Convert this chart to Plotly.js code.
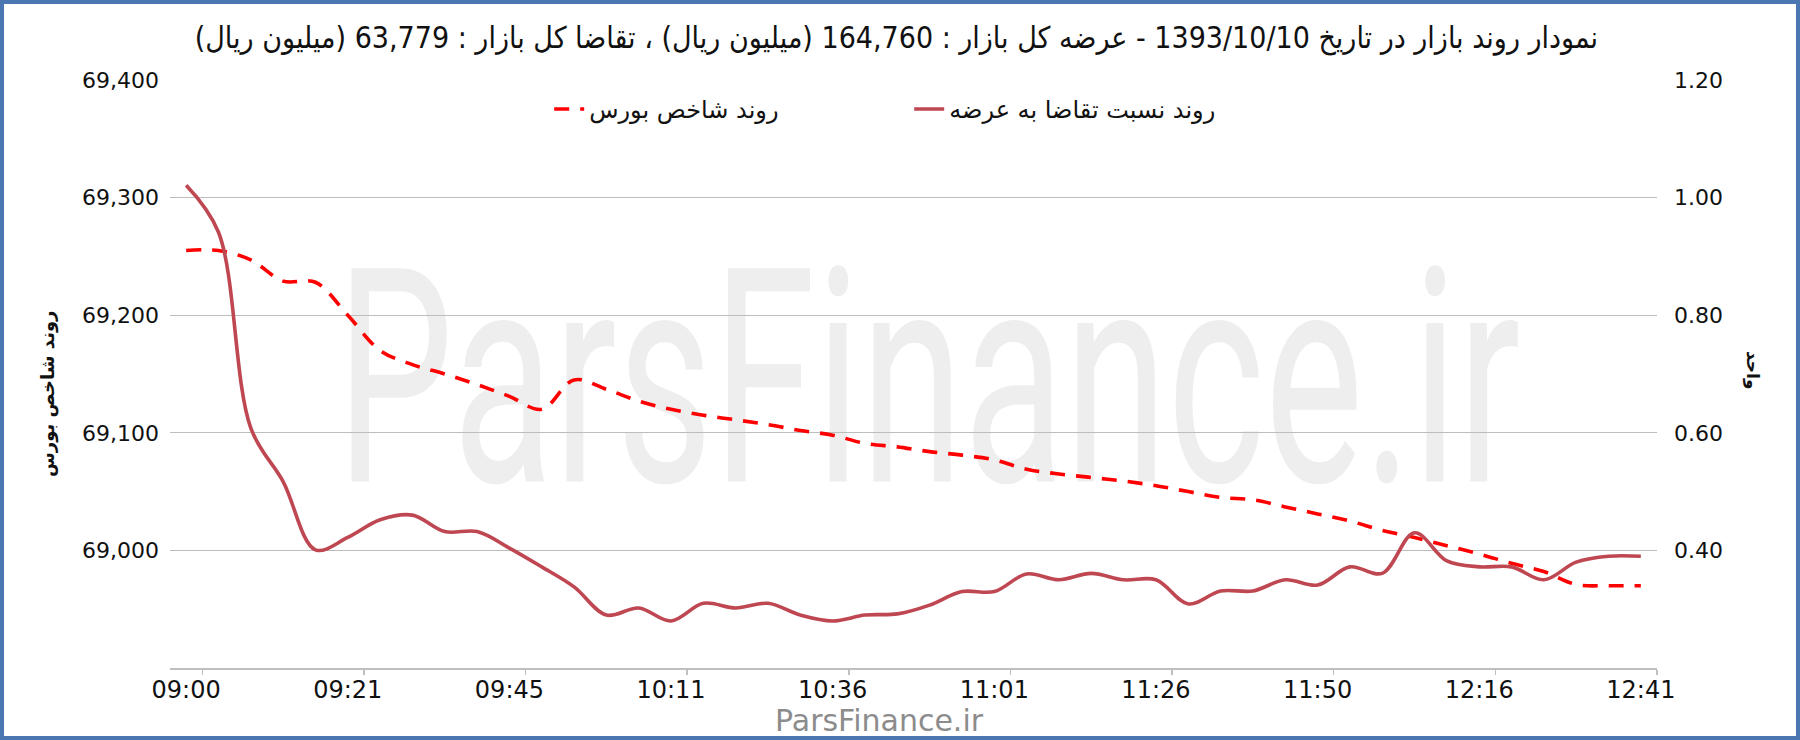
<!DOCTYPE html>
<html><head><meta charset="utf-8">
<script src="https://cdn.plot.ly/plotly-3.0.1.min.js"></script>
<style>
html,body{margin:0;padding:0;background:#fff;}
#wrap{position:relative;width:1800px;height:740px;}
#chart{width:1800px;height:740px;}
#frame{position:absolute;left:0;top:0;width:1800px;height:740px;box-sizing:border-box;border:4px solid #4a77b1;pointer-events:none;}
</style></head><body>
<div id="wrap"><div id="chart"></div><div id="frame"></div></div>
<script>
const chartTitle = 'نمودار روند بازار در تاریخ 1393/10/10 - عرضه کل بازار : 164,760 (میلیون ریال) ، تقاضا کل بازار : 63,779 (میلیون ریال)';
const timeLabels = ['09:00','09:21','09:45','10:11','10:36','11:01','11:26','11:50','12:16','12:41'];
const labelStep = 5;
const indexName = 'روند شاخص بورس';
const ratioName = 'روند نسبت تقاضا به عرضه';
const leftTitle = 'روند شاخص بورس';
const rightTitle = 'واحد';
const watermark = 'ParsFinance.ir';
const indexSeries = [69255,69255,69247,69229,69228,69200,69170,69158,69150,69141,
  69131,69120,69145,69137,69127,69120,69115,69111,69107,69102,
  69098,69091,69088,69084,69081,69077,69069,69065,69062,69059,
  69055,69050,69045,69043,69037,69031,69025,69017,69011,69004,
  68997,68989,68982,68971,68970,68970];
const ratioSeries = [1.021,0.941,0.608,0.517,0.401,0.422,0.452,0.460,0.432,0.432,
  0.404,0.372,0.338,0.290,0.302,0.280,0.310,0.302,0.310,0.290,
  0.280,0.290,0.292,0.307,0.330,0.330,0.360,0.350,0.361,0.350,
  0.350,0.309,0.331,0.331,0.350,0.341,0.372,0.361,0.430,0.382,
  0.372,0.372,0.350,0.380,0.390,0.390];
const leftTicks = [69000,69100,69200,69300,69400];
const rightTicks = [0.4,0.6,0.8,1.0,1.2];
const leftRange = [68900,69400];
const rightRange = [0.2,1.2];

const xs = indexSeries.map((_, i) => i);
const tickPos = timeLabels.map((_, k) => k * labelStep);

const traces = [
  {x: xs, y: indexSeries, name: indexName, type: 'scatter', mode: 'lines', yaxis: 'y',
   line: {color: '#ff0000', width: 3.6, dash: '15px,11px', shape: 'spline', smoothing: 1}},
  {x: xs, y: ratioSeries, name: ratioName, type: 'scatter', mode: 'lines', yaxis: 'y2',
   line: {color: '#bf4752', width: 3.6, shape: 'spline', smoothing: 1}}
];

const tickFont = {family: 'DejaVu Sans', size: 22, color: '#111'};
const pxX = px => (px - 170) / 1487;
const pxY = py => 1 - (py - 80) / 588;
const layout = {
  width: 1800, height: 740,
  margin: {l: 170, r: 143, t: 80, b: 72},
  paper_bgcolor: '#fff', plot_bgcolor: 'rgba(0,0,0,0)',
  showlegend: true,
  title: {text: '\u202B' + chartTitle + '\u202C', xref: 'container', yref: 'container', x: 0.498, y: 0.949,
          xanchor: 'center', yanchor: 'middle',
          font: {family: 'DejaVu Sans Condensed', size: 30, color: '#111'}},
  xaxis: {range: [-0.5, xs.length - 0.5], tickmode: 'array', tickvals: tickPos, ticktext: timeLabels,
          showgrid: false, zeroline: false, showline: true, linecolor: '#bfbfbf', linewidth: 1.5,
          ticks: '', tickfont: {family: 'DejaVu Sans', size: 24, color: '#111'},
          minor: {tickmode: 'linear', tick0: 0.5, dtick: labelStep, ticks: 'outside', ticklen: 5, tickcolor: '#bfbfbf', tickwidth: 1.5, showgrid: false},
          fixedrange: true},
  yaxis: {range: leftRange, tickmode: 'array', tickvals: leftTicks, tickformat: ',d',
          showgrid: true, gridcolor: '#bdbdbd', gridwidth: 1.3, zeroline: false, showline: false,
          ticks: '', ticklabelstandoff: 10, tickfont: tickFont},
  yaxis2: {range: rightRange, overlaying: 'y', side: 'right', tickmode: 'array', tickvals: rightTicks, tickformat: '.2f',
           showgrid: false, zeroline: false, showline: false, ticks: '', ticklabelstandoff: 16, tickfont: tickFont},
  legend: {orientation: 'h', x: 0.255, xanchor: 'left', y: 0.950, yanchor: 'middle',
           bgcolor: 'rgba(0,0,0,0)', entrywidth: 315, entrywidthmode: 'pixels',
           font: {family: 'DejaVu Sans', size: 24, color: '#111'}},
  shapes: [{type: 'rect', xref: 'paper', yref: 'paper', x0: 0.2, x1: 0.82, y0: 0.329, y1: 0.729,
            line: {width: 0}, fillcolor: 'rgba(0,0,0,0)', layer: 'below',
            label: {text: watermark, textposition: 'middle center',
                    font: {family: 'Roboto', size: 300, color: '#eeeeee'}}}],
  annotations: [
    {text: leftTitle, xref: 'paper', yref: 'paper', x: pxX(48), y: pxY(394),
     showarrow: false, textangle: -90, xanchor: 'center', yanchor: 'middle',
     font: {family: 'DejaVu Sans', size: 18, color: '#111', weight: 'bold'}},
    {text: rightTitle, xref: 'paper', yref: 'paper', x: pxX(1753), y: pxY(370),
     showarrow: false, textangle: 90, xanchor: 'center', yanchor: 'middle',
     font: {family: 'DejaVu Sans', size: 17, color: '#111', weight: 'bold'}},
    {text: watermark, xref: 'paper', yref: 'paper', x: pxX(879), y: pxY(720),
     showarrow: false, xanchor: 'center', yanchor: 'middle',
     font: {family: 'DejaVu Sans', size: 30, color: '#8c8c8c'}}
  ]
};

Plotly.newPlot('chart', traces, layout, {displayModeBar: false, staticPlot: true}).then(gd => {
  gd.querySelectorAll('text').forEach(t => {
    if (t.textContent === watermark && t.closest('.shapelayer, .layer-below, .shape-group, g[class*="shape"]')) {
      t.style.transformBox = 'fill-box';
      t.style.transformOrigin = 'center';
      t.style.transform = 'scaleX(0.62)';
    }
  });
});
</script>
</body></html>
